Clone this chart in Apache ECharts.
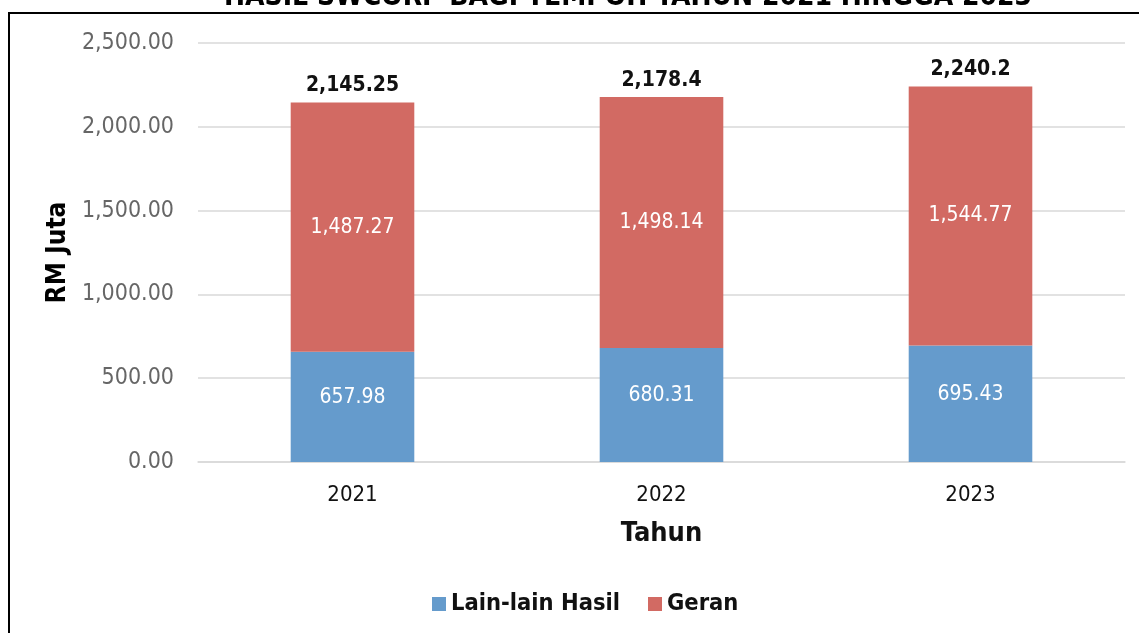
<!DOCTYPE html>
<html>
<head>
<meta charset="utf-8">
<script src="https://cdn.jsdelivr.net/npm/echarts@6/dist/echarts.min.js"></script>
<style>
  html, body { margin: 0; padding: 0; background: #fff; }
  #chart { width: 1139px; height: 633px; }
</style>
</head>
<body>
<div id="chart"></div>
<script>
const years = ['2021', '2022', '2023']
const lainLain = [657.98, 680.31, 695.43]
const geran = [1487.27, 1498.14, 1544.77]
const totals = [2145.25, 2178.4, 2240.2]
const yTicks = { min: 0, max: 2500, step: 500 }

const FONT = 'DejaVu Sans Condensed'
const fmt2 = v => v.toLocaleString('en-US', { minimumFractionDigits: 2, maximumFractionDigits: 2 })
const fmtTotal = v => v.toLocaleString('en-US', { maximumFractionDigits: 2 })

const chart = echarts.init(document.getElementById('chart'))

chart.setOption({
  animation: false,
  textStyle: { fontFamily: FONT },
  title: {
    text: 'HASIL SWCORP BAGI TEMPOH TAHUN 2021 HINGGA 2023',
    left: 623,
    textAlign: 'center',
    top: -21,
    textStyle: { fontFamily: FONT, fontWeight: 'bold', fontSize: 28, color: '#000' }
  },
  graphic: [{
    type: 'rect',
    z: -1,
    shape: { x: 9, y: 13, width: 1300, height: 800 },
    style: { fill: 'none', stroke: '#000', lineWidth: 2 }
  }],
  legend: {
    left: 427,
    top: 587,
    itemWidth: 14,
    itemHeight: 14,
    itemGap: 28,
    icon: 'rect',
    textStyle: { fontFamily: FONT, fontWeight: 'bold', fontSize: 23.5, color: '#111' },
    data: ['Lain-lain Hasil', 'Geran']
  },
  grid: { left: 198, right: 14, top: 43, bottom: 171 },
  xAxis: {
    type: 'category',
    data: years,
    name: 'Tahun',
    nameLocation: 'middle',
    nameGap: 58,
    nameTextStyle: { fontFamily: FONT, fontWeight: 'bold', fontSize: 27, color: '#111' },
    axisLine: { lineStyle: { color: '#d9d9d9', width: 1.5 } },
    axisTick: { show: false },
    axisLabel: { margin: 22, fontSize: 22, color: '#111' }
  },
  yAxis: {
    type: 'value',
    min: yTicks.min,
    max: yTicks.max,
    interval: yTicks.step,
    name: 'RM Juta',
    nameLocation: 'middle',
    nameGap: 126,
    nameTextStyle: { fontFamily: FONT, fontWeight: 'bold', fontSize: 26, color: '#000' },
    axisLine: { show: false },
    axisTick: { show: false },
    axisLabel: { margin: 24, fontSize: 23, color: '#666', formatter: fmt2 },
    splitLine: { lineStyle: { color: '#d9d9d9', width: 1.5 } }
  },
  series: [
    {
      name: 'Lain-lain Hasil',
      type: 'bar',
      stack: 'hasil',
      barWidth: '40%',
      data: lainLain,
      itemStyle: { color: '#659bcc' },
      label: {
        show: true,
        position: 'inside',
        offset: [0, -9],
        color: '#fff',
        fontSize: 21,
        formatter: p => fmt2(p.value)
      }
    },
    {
      name: 'Geran',
      type: 'bar',
      stack: 'hasil',
      barWidth: '40%',
      data: geran,
      itemStyle: { color: '#d26a63' },
      label: {
        show: true,
        position: 'inside',
        color: '#fff',
        fontSize: 21,
        formatter: p => fmt2(p.value)
      }
    },
    {
      name: 'Jumlah',
      type: 'bar',
      stack: 'hasil',
      barWidth: '40%',
      data: totals.map(() => 0),
      itemStyle: { color: 'transparent' },
      label: {
        show: true,
        position: 'top',
        distance: 6,
        color: '#111',
        fontSize: 21,
        fontWeight: 'bold',
        formatter: p => fmtTotal(totals[p.dataIndex])
      }
    }
  ]
})
</script>
</body>
</html>
